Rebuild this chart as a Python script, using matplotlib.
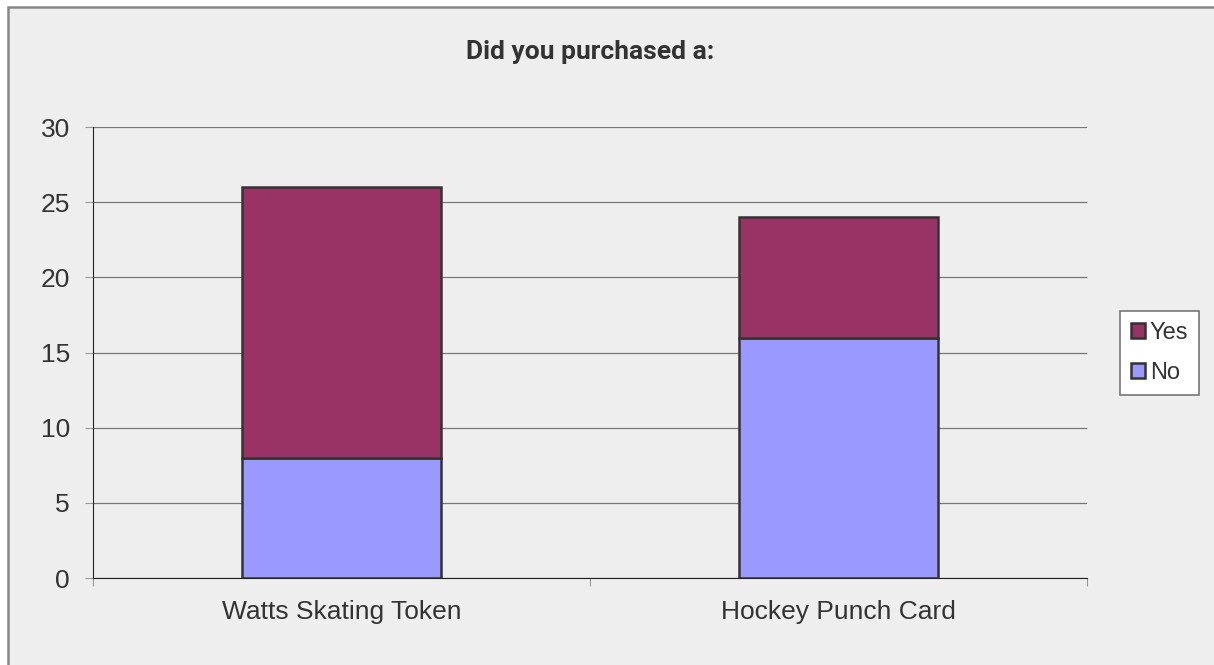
import matplotlib
matplotlib.use('Agg')
import matplotlib.pyplot as plt
import numpy as np
from matplotlib.patches import Rectangle

plt.rcParams['font.family'] = ['Liberation Sans', 'DejaVu Sans']

categories = ['Watts Skating Token', 'Hockey Punch Card']
no_vals = [8, 16]
yes_vals = [18, 8]
yticks = [0, 5, 10, 15, 20, 25, 30]

bg = '#eeeeee'
txt = '#333333'

fig = plt.figure(figsize=(12.14, 6.65), dpi=100, facecolor='white')
# chart area: grey panel with a border on top and left
fig.patches.append(Rectangle((8 / 1214, -0.05), 1.1, 1.05 - 7 / 665, transform=fig.transFigure,
                             facecolor=bg, edgecolor='#888888', linewidth=1.8, zorder=-5))

ax = fig.add_axes([0.0766, 0.1308, 0.8188, 0.678])
ax.set_facecolor(bg)

x = np.arange(len(categories))
ax.bar(x, no_vals, width=0.4, color='#9999ff', edgecolor='#333333', linewidth=1.8, label='No', zorder=3)
ax.bar(x, yes_vals, width=0.4, bottom=no_vals, color='#993366', edgecolor='#333333', linewidth=1.8, label='Yes', zorder=3)

ax.set_xlim(-0.5, 1.5)
ax.set_ylim(0, 30)
ax.set_yticks(yticks)
ax.set_yticklabels([str(t) for t in yticks], fontsize=19, color=txt)
ax.yaxis.grid(True, color='#777777', linewidth=0.9, zorder=0)

# category ticks sit between the groups
ax.set_xticks([-0.5, 0.5, 1.5])
ax.set_xticklabels([])
ax.set_xticks(x, minor=True)
ax.set_xticklabels(categories, minor=True, fontsize=19, color=txt)
ax.tick_params(axis='x', which='minor', length=0, pad=16)
ax.tick_params(axis='x', which='major', length=6, color='#999999')
ax.tick_params(axis='y', length=6, color='#999999', pad=10.5)

for s in ['top', 'right']:
    ax.spines[s].set_visible(False)
ax.spines['left'].set_color('#222222')
ax.spines['bottom'].set_color('#222222')

fig.text(590 / 1214, 1 - 52 / 665, 'Did you purchased a:', ha='center', va='center',
         fontsize=19, fontweight='bold', color=txt, family=['Roboto', 'DejaVu Sans'])

h, l = ax.get_legend_handles_labels()
leg = fig.legend(h[::-1], l[::-1], loc='center', bbox_to_anchor=(0.9551, 0.4692),
                 fontsize=17, frameon=True, handlelength=0.6, handleheight=0.6,
                 handletextpad=0.2, labelspacing=0.75, borderpad=0.47, borderaxespad=0,
                 fancybox=False, framealpha=1)
leg.get_frame().set_edgecolor('#777777')
leg.get_frame().set_facecolor('white')
leg.get_frame().set_linewidth(1.2)
for t in leg.get_texts():
    t.set_color(txt)

fig.savefig('out.png', dpi=100, facecolor='white')
